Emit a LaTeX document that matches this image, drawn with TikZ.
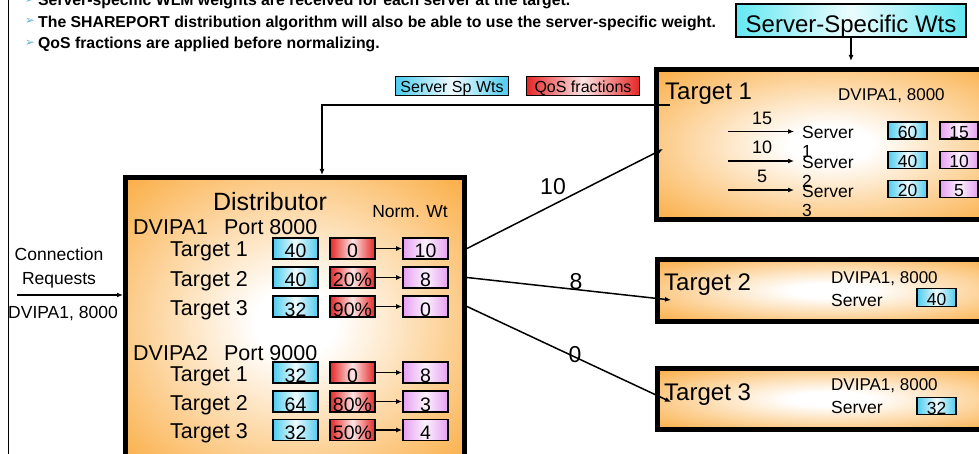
\documentclass[tikz,border=0pt]{standalone}
\usepackage{fontspec}
\setmainfont{Liberation Sans}
\newfontfamily\dingfont{DejaVu Sans}
\usetikzlibrary{arrows.meta}
\definecolor{orng}{RGB}{250,166,52}
\definecolor{cyn}{RGB}{78,204,238}
\definecolor{aqua}{RGB}{100,232,242}
\definecolor{rd}{RGB}{230,38,38}
\definecolor{pnk}{RGB}{230,160,240}
\definecolor{bulc}{RGB}{96,182,206}
\pgfdeclareradialshading{glow}{\pgfpoint{0bp}{0bp}}{color(0bp)=(white); color(6bp)=(white); color(38bp)=(orng); color(50bp)=(orng)}
\newcommand\fsz[1]{\fontsize{#1}{#1}\selectfont}
\tikzset{
  bigbox/.style={draw=black, line width=5pt, shading=glow, anchor=north west, inner sep=0pt},
  wt/.style={draw=black, line width=1.8pt, left color=cyn, right color=cyn, middle color=cyn!10, inner sep=0pt, text depth=0pt},
  qf/.style={draw=black, line width=1.8pt, left color=rd, right color=rd, middle color=rd!12, inner sep=0pt, text depth=0pt},
  nw/.style={draw=black, line width=1.8pt, left color=pnk, right color=pnk, middle color=pnk!15, inner sep=0pt, text depth=0pt},
  dsz/.style={minimum width=45pt, minimum height=21pt, text height=19pt, font=\fsz{19.5}},
  tsz/.style={minimum height=17pt, text height=16pt, font=\fsz{17.5}},
  conn/.style={line width=1.5pt, -{Latex[length=6pt,width=5pt]}},
  lbl/.style={inner sep=0pt, anchor=base west},
  bulg/.style={inner sep=0pt, text=bulc, font=\dingfont\fsz{12}},
  blt/.style={lbl, font=\fsz{15.8}\bfseries},
}
\begin{document}
\begin{tikzpicture}[x=1pt,y=-1pt]
\useasboundingbox (0,0) rectangle (979,454);
\clip (0,0) rectangle (979,454);

% rule on the left margin
\draw[line width=1pt] (8,-2) -- (8,456);

% bullet list
\node[bulg] (g1) at (30,0) {➢};
\node[blt] (l1) at (38,5.7) {Server-specific WLM weights are received for each server at the target.};
\node[bulg] (g2) at (30,21.7) {➢};
\node[blt] (l2) at (38,27.4) {The SHAREPORT distribution algorithm will also be able to use the server-specific weight.};
\node[bulg] (g3) at (30,43.3) {➢};
\node[blt] (l3) at (38,49) {QoS fractions are applied before normalizing.};

% target stacks and distributor
\node[bigbox, minimum width=346pt, minimum height=150pt] (t1) at (654,67) {};
\node[bigbox, minimum width=346pt, minimum height=62pt] (t2) at (655,257) {};
\node[bigbox, minimum width=346pt, minimum height=61pt] (t3) at (655,366) {};
\node[bigbox, minimum width=339pt, minimum height=290pt] (dist) at (123,175) {};

% weight source box
\node[draw=black, line width=2pt, left color=aqua, right color=aqua, middle color=aqua!12,
      inner sep=0pt, minimum width=230pt, minimum height=33pt, text height=25pt, text depth=0pt,
      font=\fsz{24}] (wts) at (851,20.5) {Server-Specific Wts};
\draw[conn] (wts.south) -- (wts.south |- t1.north) [shorten >=6pt];

% legend
\node[wt, minimum width=113pt, minimum height=19pt, text height=12.6pt, font=\fsz{16}] (lg1) at (452,86) {Server Sp Wts};
\node[qf, minimum width=113pt, minimum height=19pt, text height=12.6pt, font=\fsz{16}] (lg2) at (583,86) {QoS fractions};

% feedback from target 1 to distributor
\coordinate (t1tag) at (670,105);
\coordinate (dtop) at (322,175);
\draw[conn] (t1tag) -| (dtop);

% distributor contents
\node[font=\fsz{25}] (dtitle) at (270,202) {Distributor};
\node[font=\fsz{17.5}] (nwt) at (410,212) {Norm. Wt};
\node[lbl, font=\fsz{21.5}] (grp1) at (133,234.5) {DVIPA1\hspace{16pt}Port 8000};
\node[lbl, font=\fsz{21.5}] (grp2) at (133,360.5) {DVIPA2\hspace{16pt}Port 9000};
\foreach \yy/\k/\a/\b/\c/\n in {248.5/1/40/0/10/1, 277.5/2/40/20\%/8/2, 306.5/3/32/90\%/0/3,
                               372.5/1/32/0/8/4, 401.5/2/64/80\%/3/5, 430/3/32/50\%/4/6}{
  \node[lbl, font=\fsz{21.5}] (tl\n) at (170,\yy+8.5) {Target \k};
  \node[wt, dsz] (b\n) at (295.5,\yy) {\a};
  \node[qf, dsz] (r\n) at (352.5,\yy) {\b};
  \node[nw, dsz] (p\n) at (425.5,\yy) {\c};
  \draw[conn] (r\n) -- (p\n);
}

% connection requests
\node[font=\fsz{17.5}, align=center, inner sep=0pt] (creq) at (59,268) {Connection\\[6pt]Requests};
\coordinate (cin) at (17,295);
\draw[conn] (cin) -- (cin -| dist.west);
\node[font=\fsz{17.5}, inner sep=0pt, anchor=base] (cvip) at (63,318.5) {DVIPA1, 8000};

% distributor to targets
\coordinate (t1in) at (663,149);
\coordinate (t2in) at (671,300);
\coordinate (t3in) at (671,402);
\draw[conn] (dist.east |- p1) -- (t1in);
\draw[conn] (dist.east |- p2) -- (t2in);
\draw[conn] (dist.east |- p3) -- (t3in);
\node[font=\fsz{23}] (w1) at (553,187) {10};
\node[font=\fsz{23}] (w2) at (576,282) {8};
\node[font=\fsz{23}] (w3) at (575,355) {0};

% target 1 contents
\node[lbl, font=\fsz{24}] (t1name) at (665,100) {Target 1};
\node[lbl, font=\fsz{17}] (t1ip) at (838,101) {DVIPA1, 8000};
\foreach \yy/\n/\w/\s/\f in {131.5/1/15/60/15, 161/2/10/40/10, 190/3/5/20/5}{
  \node[lbl, font=\fsz{17.5}] (s\n) at (802,\yy+7.5) {Server};
  \node[lbl, font=\fsz{17.5}] (sn\n) at (802,\yy+26.5) {\n};
  \coordinate (a\n) at (728,\yy);
  \draw[conn] (a\n) -- (a\n -| s\n.west) [shorten >=8pt];
  \node[font=\fsz{18}] (wl\n) at (762,\yy-13.5) {\w};
  \node[wt, tsz, minimum width=39pt] (sw\n) at (907.5,\yy-1) {\s};
  \node[nw, tsz, minimum width=38pt] (sf\n) at (959,\yy-1) {\f};
}

% target 2 contents
\node[lbl, font=\fsz{24}] (t2name) at (664,290) {Target 2};
\node[lbl, font=\fsz{17}] (t2ip) at (831,283.3) {DVIPA1, 8000};
\node[lbl, font=\fsz{17.5}] (t2s) at (831,306) {Server};
\node[wt, tsz, minimum width=39pt, minimum height=18pt] (t2w) at (936.5,297.5) {40};

% target 3 contents
\node[lbl, font=\fsz{24}] (t3name) at (664,400) {Target 3};
\node[lbl, font=\fsz{17}] (t3ip) at (831,390.7) {DVIPA1, 8000};
\node[lbl, font=\fsz{17.5}] (t3s) at (831,413.3) {Server};
\node[wt, tsz, minimum width=39pt] (t3w) at (936.5,406) {32};
\end{tikzpicture}
\end{document}
